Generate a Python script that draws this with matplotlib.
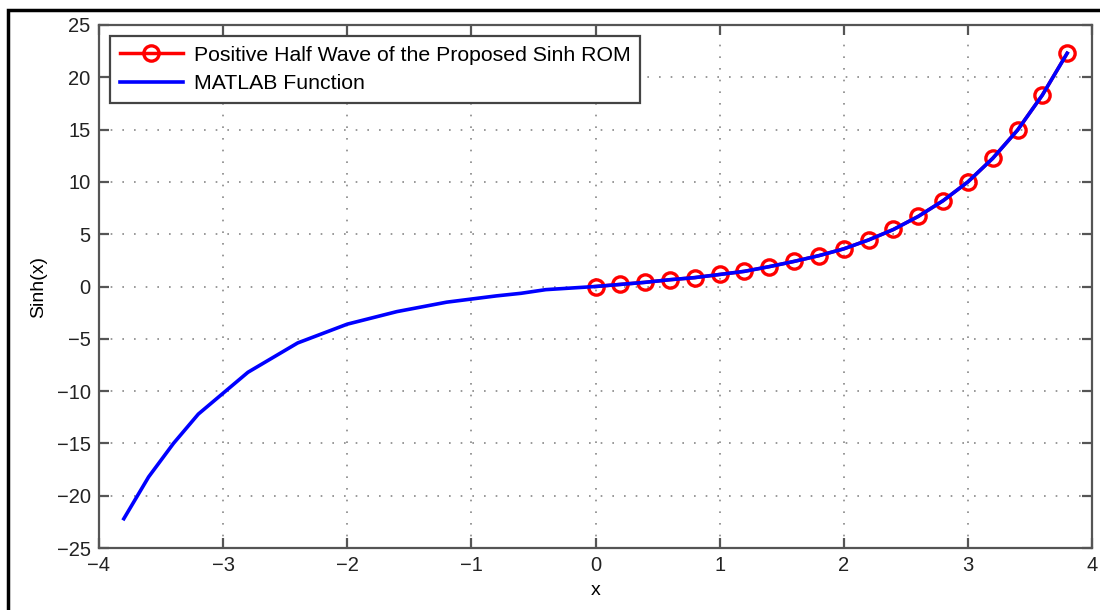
import matplotlib.pyplot as plt
from matplotlib.patches import Rectangle

plt.rcParams['font.family'] = ['Liberation Sans', 'DejaVu Sans']

# red markers (proposed ROM, positive half wave)
rom_x = [0.0, 0.2, 0.4, 0.6, 0.8, 1.0, 1.2, 1.4, 1.6, 1.8,
         2.0, 2.2, 2.4, 2.6, 2.8, 3.0, 3.2, 3.4, 3.6, 3.8]
rom_y = [0.0, 0.2, 0.4, 0.65, 0.85, 1.15, 1.45, 1.9, 2.4, 2.95,
         3.6, 4.45, 5.45, 6.7, 8.2, 10.0, 12.25, 14.95, 18.3, 22.3]

# blue line (MATLAB function)
ml_x = [-3.8, -3.6, -3.4, -3.2, -2.8, -2.4, -2.0, -1.6, -1.2, -0.8, -0.6, -0.4, -0.2,
        0.0, 0.2, 0.4, 0.6, 0.8, 1.0, 1.2, 1.4, 1.6, 1.8,
        2.0, 2.2, 2.4, 2.6, 2.8, 3.0, 3.2, 3.4, 3.6, 3.8]
ml_y = [-22.2, -18.2, -15.0, -12.2, -8.2, -5.4, -3.6, -2.4, -1.5, -0.9, -0.65, -0.3, -0.15,
        0.0, 0.2, 0.4, 0.65, 0.85, 1.15, 1.45, 1.9, 2.4, 2.95,
        3.6, 4.45, 5.45, 6.7, 8.2, 10.0, 12.25, 14.95, 18.3, 22.3]

fig = plt.figure(figsize=(11, 6.1), dpi=100)
ax = fig.add_axes([99/1100, 62/610, 993/1100, 523/610])

# outer black frame
fig.patches.append(Rectangle((8/1100, -0.1), 1.2, 1 - 10/610 + 0.1, transform=fig.transFigure,
                             fill=False, edgecolor='black', linewidth=2.5))

ax.plot(rom_x, rom_y, color='red', linewidth=2.5, marker='o', markersize=11,
        markerfacecolor='none', markeredgewidth=2.4,
        label='Positive Half Wave of the Proposed Sinh ROM', zorder=3)
ax.plot(ml_x, ml_y, color='blue', linewidth=2.6, label='MATLAB Function', zorder=4)

ax.set_xlim(-4, 4)
ax.set_ylim(-25, 25)
ax.set_xticks(range(-4, 5))
ax.set_yticks(range(-25, 26, 5))
ax.grid(True, color='#888888', linestyle=(0, (1, 6)), linewidth=1.2)

for s in ax.spines.values():
    s.set_color('#555555')
    s.set_linewidth(1.6)
ax.tick_params(direction='in', length=7, width=1.6, color='#555555',
               top=True, right=True, labelsize=14.5, labelcolor='#222222', pad=6)

ax.set_xlabel('x', fontsize=14, labelpad=5)
ax.set_ylabel('Sinh(x)', fontsize=14, labelpad=7)

leg = ax.legend(loc='upper left', bbox_to_anchor=(110/1100, 1 - 36/610),
                bbox_transform=fig.transFigure, borderaxespad=0, fancybox=False,
                edgecolor='#444444', framealpha=1, fontsize=15.3, handlelength=3.0,
                handletextpad=0.5, labelspacing=0.45, borderpad=0.45)
leg.get_frame().set_linewidth(1.6)

fig.savefig('out.png', dpi=100)
